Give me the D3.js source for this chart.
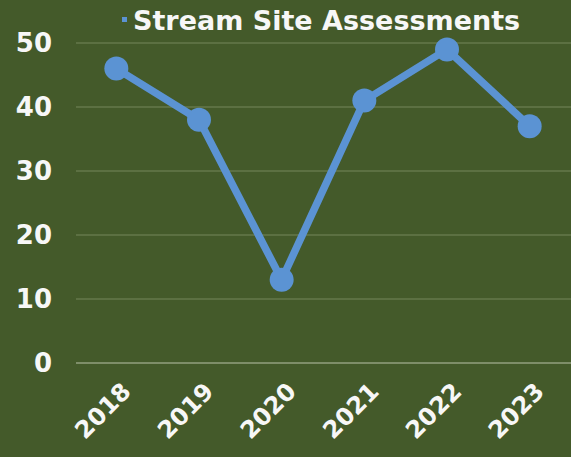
<!DOCTYPE html>
<html>
<head>
<meta charset="utf-8">
<script src="https://cdn.jsdelivr.net/npm/d3@7"></script>
<style>
  body { margin: 0; background: #445a2a; }
  text { font-family: "DejaVu Sans", sans-serif; font-weight: bold; fill: #f7f7f7; }
</style>
</head>
<body>
<script>
const years = ["2018", "2019", "2020", "2021", "2022", "2023"];
const assessments = [46, 38, 13, 41, 49, 37];
const yTicks = [0, 10, 20, 30, 40, 50];
const seriesName = "Stream Site Assessments";

const width = 571, height = 457;
const margin = {top: 43, right: 0, bottom: 94, left: 75};

const svg = d3.select("body").append("svg")
  .attr("width", width)
  .attr("height", height);

svg.append("rect")
  .attr("width", width)
  .attr("height", height)
  .attr("fill", "#445a2a");

const x = d3.scaleBand()
  .domain(years)
  .range([margin.left, width - margin.right]);

const y = d3.scaleLinear()
  .domain([0, 50])
  .range([height - margin.bottom, margin.top]);

// gridlines
svg.append("g")
  .selectAll("line")
  .data(yTicks)
  .join("line")
  .attr("x1", margin.left + 1)
  .attr("x2", width)
  .attr("y1", d => y(d))
  .attr("y2", d => y(d))
  .attr("stroke", d => d === 0 ? "#b9c2a8" : "#74865a")
  .attr("stroke-width", 1);

// y labels
svg.append("g")
  .selectAll("text")
  .data(yTicks)
  .join("text")
  .attr("x", 52)
  .attr("y", d => y(d))
  .attr("dy", "0.36em")
  .attr("text-anchor", "end")
  .attr("font-size", 26)
  .text(d => d);

// x labels
svg.append("g")
  .selectAll("text")
  .data(years)
  .join("text")
  .attr("text-anchor", "end")
  .attr("font-size", 24)
  .attr("transform", d => `translate(${x(d) + x.bandwidth() / 2 + 16},${y(0) + 30}) rotate(-45)`)
  .text(d => d);

const pts = years.map((d, i) => ({year: d, v: assessments[i]}));

const line = d3.line()
  .x(d => x(d.year) + x.bandwidth() / 2)
  .y(d => y(d.v));

svg.append("path")
  .attr("d", line(pts))
  .attr("fill", "none")
  .attr("stroke", "#5b93d3")
  .attr("stroke-width", 7.5)
  .attr("stroke-linejoin", "round");

svg.append("g")
  .selectAll("circle")
  .data(pts)
  .join("circle")
  .attr("cx", d => x(d.year) + x.bandwidth() / 2)
  .attr("cy", d => y(d.v))
  .attr("r", 12)
  .attr("fill", "#5b93d3");

// legend
svg.append("rect")
  .attr("x", 122)
  .attr("y", 17)
  .attr("width", 5)
  .attr("height", 5)
  .attr("fill", "#5b93d3");

svg.append("text")
  .attr("x", 133)
  .attr("y", 30)
  .attr("font-size", 27)
  .text(seriesName);
</script>
</body>
</html>
